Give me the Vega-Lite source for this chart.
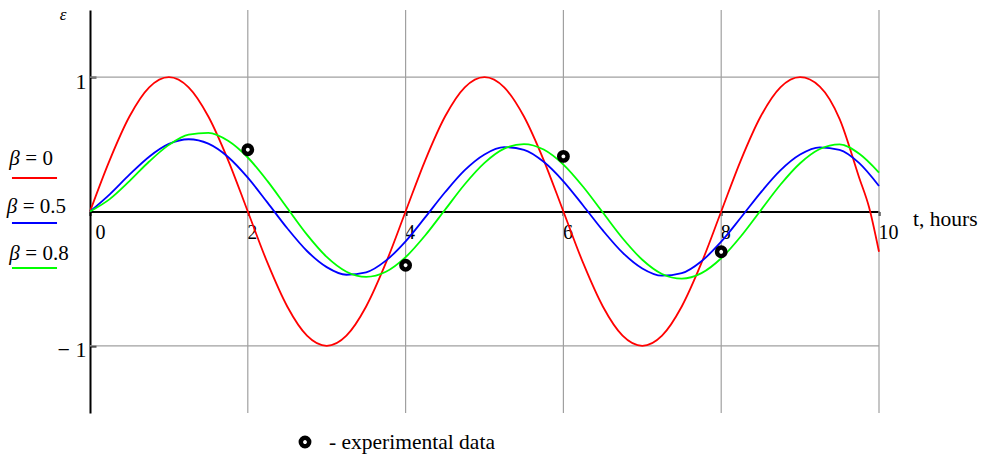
{
  "$schema": "https://vega.github.io/schema/vega-lite/v6.json",
  "width": 789,
  "height": 403,
  "autosize": {"type": "none"},
  "padding": {"left": 90, "top": 10, "right": 109, "bottom": 45},
  "background": "white",
  "config": {"view": {"stroke": null}, "font": "Liberation Serif"},
  "datasets": {
    "curves": [
      {"t":0,"v":0,"s":"r"},{"t":0.25,"v":0.383,"s":"r"},{"t":0.5,"v":0.707,"s":"r"},{"t":0.75,"v":0.924,"s":"r"},{"t":1,"v":1,"s":"r"},{"t":1.25,"v":0.924,"s":"r"},{"t":1.5,"v":0.707,"s":"r"},{"t":1.75,"v":0.383,"s":"r"},{"t":2,"v":0,"s":"r"},{"t":2.25,"v":-0.383,"s":"r"},{"t":2.5,"v":-0.707,"s":"r"},{"t":2.75,"v":-0.924,"s":"r"},{"t":3,"v":-1,"s":"r"},{"t":3.25,"v":-0.924,"s":"r"},{"t":3.5,"v":-0.707,"s":"r"},{"t":3.75,"v":-0.383,"s":"r"},{"t":4,"v":0,"s":"r"},{"t":4.25,"v":0.383,"s":"r"},{"t":4.5,"v":0.707,"s":"r"},{"t":4.75,"v":0.924,"s":"r"},{"t":5,"v":1,"s":"r"},{"t":5.25,"v":0.924,"s":"r"},{"t":5.5,"v":0.707,"s":"r"},{"t":5.75,"v":0.383,"s":"r"},{"t":6,"v":0,"s":"r"},{"t":6.25,"v":-0.383,"s":"r"},{"t":6.5,"v":-0.707,"s":"r"},{"t":6.75,"v":-0.924,"s":"r"},{"t":7,"v":-1,"s":"r"},{"t":7.25,"v":-0.924,"s":"r"},{"t":7.5,"v":-0.707,"s":"r"},{"t":7.75,"v":-0.383,"s":"r"},{"t":8,"v":0,"s":"r"},{"t":8.25,"v":0.383,"s":"r"},{"t":8.5,"v":0.707,"s":"r"},{"t":8.75,"v":0.924,"s":"r"},{"t":9,"v":1,"s":"r"},{"t":9.25,"v":0.93,"s":"r"},{"t":9.5,"v":0.69,"s":"r"},{"t":9.75,"v":0.25,"s":"r"},{"t":9.875,"v":0.03,"s":"r"},{"t":10,"v":-0.3,"s":"r"},
      {"t":0,"v":0,"s":"b"},{"t":0.25,"v":0.128,"s":"b"},{"t":0.5,"v":0.274,"s":"b"},{"t":0.75,"v":0.408,"s":"b"},{"t":1,"v":0.503,"s":"b"},{"t":1.25,"v":0.538,"s":"b"},{"t":1.5,"v":0.505,"s":"b"},{"t":1.75,"v":0.406,"s":"b"},{"t":2,"v":0.252,"s":"b"},{"t":2.25,"v":0.066,"s":"b"},{"t":2.5,"v":-0.125,"s":"b"},{"t":2.75,"v":-0.294,"s":"b"},{"t":3,"v":-0.414,"s":"b"},{"t":3.25,"v":-0.471,"s":"b"},{"t":3.5,"v":-0.453,"s":"b"},{"t":3.75,"v":-0.366,"s":"b"},{"t":4,"v":-0.222,"s":"b"},{"t":4.25,"v":-0.042,"s":"b"},{"t":4.5,"v":0.143,"s":"b"},{"t":4.75,"v":0.308,"s":"b"},{"t":5,"v":0.425,"s":"b"},{"t":5.25,"v":0.479,"s":"b"},{"t":5.5,"v":0.459,"s":"b"},{"t":5.75,"v":0.37,"s":"b"},{"t":6,"v":0.225,"s":"b"},{"t":6.25,"v":0.045,"s":"b"},{"t":6.5,"v":-0.141,"s":"b"},{"t":6.75,"v":-0.306,"s":"b"},{"t":7,"v":-0.424,"s":"b"},{"t":7.25,"v":-0.478,"s":"b"},{"t":7.5,"v":-0.459,"s":"b"},{"t":7.75,"v":-0.37,"s":"b"},{"t":8,"v":-0.225,"s":"b"},{"t":8.25,"v":-0.045,"s":"b"},{"t":8.5,"v":0.141,"s":"b"},{"t":8.75,"v":0.306,"s":"b"},{"t":9,"v":0.424,"s":"b"},{"t":9.25,"v":0.478,"s":"b"},{"t":9.5,"v":0.459,"s":"b"},{"t":9.75,"v":0.36,"s":"b"},{"t":10,"v":0.19,"s":"b"},
      {"t":0,"v":0,"s":"g"},{"t":0.25,"v":0.092,"s":"g"},{"t":0.5,"v":0.226,"s":"g"},{"t":0.75,"v":0.372,"s":"g"},{"t":1,"v":0.496,"s":"g"},{"t":1.25,"v":0.573,"s":"g"},{"t":1.5,"v":0.586,"s":"g"},{"t":1.75,"v":0.527,"s":"g"},{"t":2,"v":0.402,"s":"g"},{"t":2.25,"v":0.226,"s":"g"},{"t":2.5,"v":0.026,"s":"g"},{"t":2.75,"v":-0.172,"s":"g"},{"t":3,"v":-0.338,"s":"g"},{"t":3.25,"v":-0.448,"s":"g"},{"t":3.5,"v":-0.487,"s":"g"},{"t":3.75,"v":-0.449,"s":"g"},{"t":4,"v":-0.34,"s":"g"},{"t":4.25,"v":-0.177,"s":"g"},{"t":4.5,"v":0.013,"s":"g"},{"t":4.75,"v":0.203,"s":"g"},{"t":5,"v":0.362,"s":"g"},{"t":5.25,"v":0.468,"s":"g"},{"t":5.5,"v":0.502,"s":"g"},{"t":5.75,"v":0.461,"s":"g"},{"t":6,"v":0.349,"s":"g"},{"t":6.25,"v":0.184,"s":"g"},{"t":6.5,"v":-0.008,"s":"g"},{"t":6.75,"v":-0.199,"s":"g"},{"t":7,"v":-0.359,"s":"g"},{"t":7.25,"v":-0.465,"s":"g"},{"t":7.5,"v":-0.5,"s":"g"},{"t":7.75,"v":-0.459,"s":"g"},{"t":8,"v":-0.348,"s":"g"},{"t":8.25,"v":-0.184,"s":"g"},{"t":8.5,"v":0.008,"s":"g"},{"t":8.75,"v":0.199,"s":"g"},{"t":9,"v":0.359,"s":"g"},{"t":9.25,"v":0.465,"s":"g"},{"t":9.5,"v":0.5,"s":"g"},{"t":9.75,"v":0.43,"s":"g"},{"t":10,"v":0.29,"s":"g"}
    ],
    "experiment": [
      {"t":2,"v":0.46},{"t":4,"v":-0.4},{"t":6,"v":0.41},{"t":8,"v":-0.3}
    ],
    "vgrid": [{"t":2,"v":-1.5,"v2":1.5},{"t":4,"v":-1.5,"v2":1.5},{"t":6,"v":-1.5,"v2":1.5},{"t":8,"v":-1.5,"v2":1.5},{"t":10,"v":-1.5,"v2":1.5}],
    "hgrid": [{"t":0,"t2":10,"v":1},{"t":0,"t2":10,"v":-1}],
    "legendText": [
      {"t":-1.023,"v":0.346,"label":"= 0"},
      {"t":-1.056,"v":-0.011,"label":"= 0.5"},
      {"t":-1.023,"v":-0.361,"label":"= 0.8"}
    ],
    "legendLines": [
      {"t":-0.989,"t2":-0.418,"v":0.249,"s":"r"},
      {"t":-0.989,"t2":-0.418,"v":-0.086,"s":"b"},
      {"t":-0.989,"t2":-0.418,"v":-0.421,"s":"g"}
    ],
    "leftText": [
      {"t":10.431,"v":-0.106,"label":"t, hours"},
      {"t":3.029,"v":-1.77,"label":"- experimental data"}
    ],
    "expLegend": [{"t":2.725,"v":-1.716}],
    "yTitle": [{"t":-0.342,"v":1.463,"label":"ε"}]
  },
  "encoding": {
    "x": {"field": "t", "type": "quantitative", "scale": {"domain": [0, 10], "nice": false, "zero": false},
      "axis": {"values": [0, 2, 4, 6, 8, 10], "offset": -201.5, "domainColor": "black", "domainWidth": 2, "tickColor": "black", "tickWidth": 2, "tickSize": 4, "labelFont": "Liberation Serif", "labelFontSize": 20, "labelColor": "black", "labelBaseline": "alphabetic", "labelAlign": "left", "labelPadding": 22.5, "labelOffset": {"condition": {"test": "datum.value == 0", "value": 5}, "value": -1}, "labelFlush": false, "labelOverlap": false, "grid": false, "title": null}},
    "y": {"field": "v", "type": "quantitative", "scale": {"domain": [-1.5, 1.5], "nice": false, "zero": false},
      "axis": {"values": [-1, 1], "domainColor": "black", "domainWidth": 2, "ticks": true, "tickColor": "black", "tickWidth": 2, "tickSize": -6, "labelPadding": 10, "labelFont": "Liberation Serif", "labelFontSize": 22, "labelColor": "black", "labelBaseline": "alphabetic", "labelOffset": 11, "labelExpr": "datum.value < 0 ? '− 1' : '1'", "labelFlush": false, "labelOverlap": false, "grid": false, "title": null}}
  },
  "layer": [
    {
      "data": {"name": "vgrid"},
      "mark": {"type": "rule", "color": "#a0a0a0", "strokeWidth": 1.2},
      "encoding": {"y2": {"field": "v2"}}
    },
    {
      "data": {"name": "hgrid"},
      "mark": {"type": "rule", "color": "#a0a0a0", "strokeWidth": 1.2},
      "encoding": {"x2": {"field": "t2"}}
    },
    {
      "data": {"name": "curves"},
      "mark": {"type": "line", "strokeWidth": 1.8, "interpolate": "monotone"},
      "encoding": {
        "color": {"field": "s", "type": "nominal", "scale": {"domain": ["r", "b", "g"], "range": ["#ff0000", "#0000ff", "#00ff00"]}, "legend": null}
      }
    },
    {
      "data": {"name": "experiment"},
      "mark": {"type": "point", "shape": "circle", "filled": false, "fill": "white", "fillOpacity": 1, "stroke": "black", "strokeWidth": 4.5, "size": 70, "opacity": 1},
      "encoding": {}
    },
    {
      "data": {"name": "expLegend"},
      "mark": {"type": "point", "shape": "circle", "filled": false, "fill": "white", "fillOpacity": 1, "stroke": "black", "strokeWidth": 4.5, "size": 70, "opacity": 1},
      "encoding": {}
    },
    {
      "data": {"name": "legendLines"},
      "mark": {"type": "rule", "strokeWidth": 2},
      "encoding": {
        "x2": {"field": "t2"},
        "color": {"field": "s", "type": "nominal", "scale": {"domain": ["r", "b", "g"], "range": ["#ff0000", "#0000ff", "#00ff00"]}, "legend": null}
      }
    },
    {
      "data": {"name": "legendText"},
      "mark": {"type": "text", "font": "Liberation Serif", "fontSize": 21, "fontStyle": "italic", "align": "left", "baseline": "alphabetic", "color": "black", "text": "β"},
      "encoding": {}
    },
    {
      "data": {"name": "legendText"},
      "mark": {"type": "text", "font": "Liberation Serif", "fontSize": 21, "align": "left", "baseline": "alphabetic", "color": "black", "dx": 16},
      "encoding": {"text": {"field": "label"}}
    },
    {
      "data": {"name": "leftText"},
      "mark": {"type": "text", "font": "Liberation Serif", "fontSize": 21.5, "align": "left", "baseline": "alphabetic", "color": "black"},
      "encoding": {"text": {"field": "label"}}
    },
    {
      "data": {"name": "yTitle"},
      "mark": {"type": "text", "font": "Liberation Serif", "fontSize": 17, "fontStyle": "italic", "align": "center", "baseline": "middle", "color": "black"},
      "encoding": {"text": {"field": "label"}}
    }
  ]
}
